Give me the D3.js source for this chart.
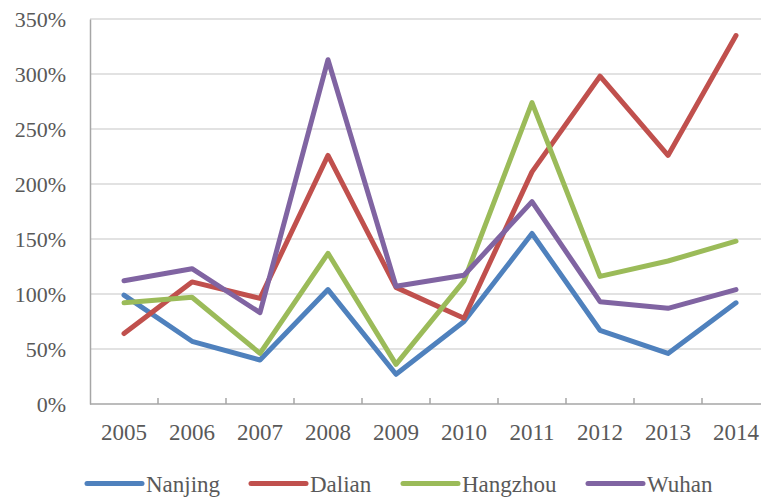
<!DOCTYPE html>
<html>
<head>
<meta charset="utf-8">
<script src="https://cdn.jsdelivr.net/npm/d3@7"></script>
<style>
  html, body { margin: 0; padding: 0; background: #fff; }
  svg { display: block; }
</style>
</head>
<body>
<script>
// Year-over-year growth rates (%) for four cities
const years = ["2005","2006","2007","2008","2009","2010","2011","2012","2013","2014"];
const nanjing  = [99, 57, 40, 104, 27, 75, 155, 67, 46, 92];
const dalian   = [64, 111, 96, 226, 106, 78, 211, 298, 226, 335];
const hangzhou = [92, 97, 46, 137, 36, 112, 274, 116, 130, 148];
const wuhan    = [112, 123, 83, 313, 107, 117, 184, 93, 87, 104];
const yTicks   = [0, 50, 100, 150, 200, 250, 300, 350];

const seriesNames  = ["Nanjing", "Dalian", "Hangzhou", "Wuhan"];
const seriesValues = [nanjing, dalian, hangzhou, wuhan];
const colors       = ["#4F81BD", "#C0504D", "#9BBB59", "#8064A2"];

const W = 761, H = 500;
const margin = { left: 90, top: 19, right: -9, bottom: 96 };
const plotW = W - margin.left - margin.right;
const plotH = H - margin.top - margin.bottom;

const FONT = "Liberation Serif";
const textColor = "#595959";

const svg = d3.select("body").append("svg")
  .attr("width", W).attr("height", H)
  .attr("font-family", FONT);

const x = d3.scaleBand().domain(years).range([0, plotW]).padding(0);
const y = d3.scaleLinear().domain([0, 350]).range([plotH, 0]);

const g = svg.append("g").attr("transform", `translate(${margin.left},${margin.top})`);

// horizontal gridlines
g.append("g").selectAll("line")
  .data(yTicks.filter(d => d > 0))
  .join("line")
  .attr("x1", 0).attr("x2", plotW)
  .attr("y1", d => y(d)).attr("y2", d => y(d))
  .attr("stroke", "#d9d9d9").attr("stroke-width", 1.5);

// y axis
const yAxis = g.append("g")
  .call(d3.axisLeft(y).tickValues(yTicks).tickSize(0).tickPadding(24).tickFormat(d => d + "%"))
  .attr("font-family", FONT).attr("font-size", 22);
yAxis.select(".domain").attr("stroke", "#a6a6a6").attr("stroke-width", 1.5);
yAxis.selectAll("text").attr("fill", textColor);

// x axis with inside ticks at category boundaries
const xAxisG = g.append("g").attr("transform", `translate(0,${plotH})`);
xAxisG.append("line")
  .attr("x1", 0).attr("x2", plotW).attr("y1", 0).attr("y2", 0)
  .attr("stroke", "#a6a6a6").attr("stroke-width", 1.5);
xAxisG.selectAll(".tick-mark")
  .data(years)
  .join("line")
  .attr("class", "tick-mark")
  .attr("x1", d => x(d) + x.step()).attr("x2", d => x(d) + x.step())
  .attr("y1", 0).attr("y2", -6)
  .attr("stroke", "#a6a6a6").attr("stroke-width", 1.5);
xAxisG.selectAll(".xlabel")
  .data(years)
  .join("text")
  .attr("class", "xlabel")
  .attr("x", d => x(d) + x.bandwidth() / 2)
  .attr("y", 36)
  .attr("text-anchor", "middle")
  .attr("fill", textColor)
  .attr("font-size", 23)
  .text(d => d);

// series lines
const line = d3.line()
  .x((d, i) => x(years[i]) + x.bandwidth() / 2)
  .y(d => y(d));

g.append("g").selectAll("path")
  .data(seriesValues)
  .join("path")
  .attr("d", d => line(d))
  .attr("fill", "none")
  .attr("stroke", (d, i) => colors[i])
  .attr("stroke-width", 5)
  .attr("stroke-linejoin", "round")
  .attr("stroke-linecap", "round");

// legend
const legendX = [87, 251, 403, 588];
const legend = svg.append("g").selectAll("g")
  .data(seriesNames)
  .join("g")
  .attr("transform", (d, i) => `translate(${legendX[i]},483.5)`);
legend.append("line")
  .attr("x1", 0).attr("x2", 55).attr("y1", 0).attr("y2", 0)
  .attr("stroke", (d, i) => colors[i])
  .attr("stroke-width", 5)
  .attr("stroke-linecap", "round");
legend.append("text")
  .attr("x", 59).attr("y", 8)
  .attr("fill", textColor)
  .attr("font-size", 23)
  .text(d => d);
</script>
</body>
</html>
